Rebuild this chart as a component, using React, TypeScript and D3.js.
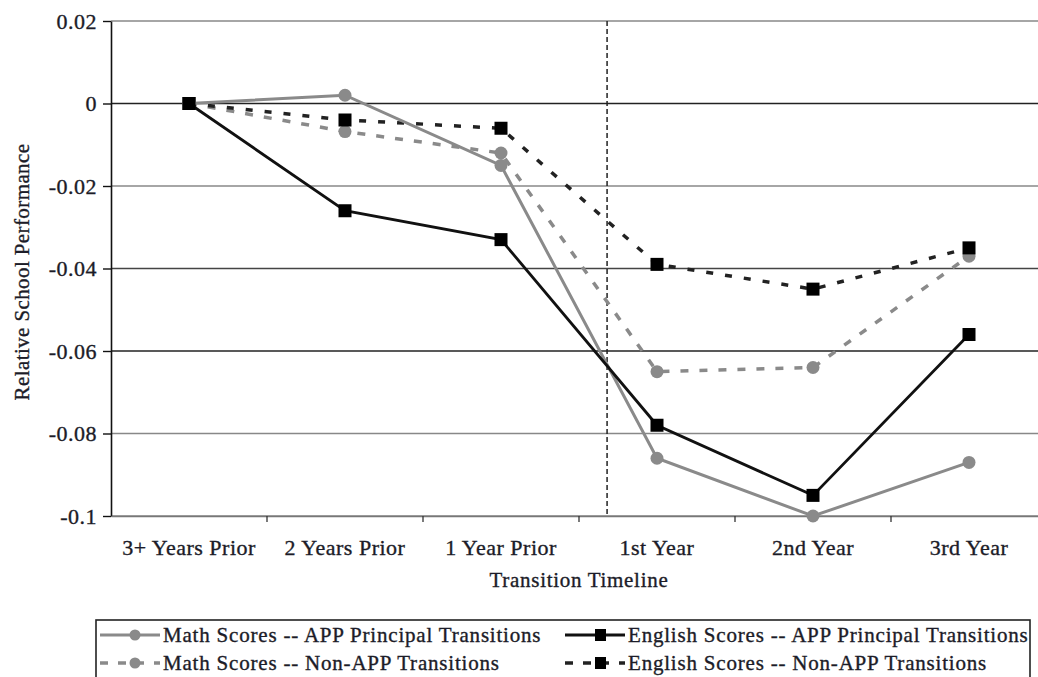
import React, { useEffect, useRef } from "react";
import * as d3 from "d3";

const categories = ["3+ Years Prior", "2 Years Prior", "1 Year Prior", "1st Year", "2nd Year", "3rd Year"];
const mathAPP = [0, 0.002, -0.015, -0.086, -0.1, -0.087];
const englishAPP = [0, -0.026, -0.033, -0.078, -0.095, -0.056];
const mathNonAPP = [0, -0.0068, -0.012, -0.065, -0.064, -0.037];
const englishNonAPP = [0, -0.004, -0.006, -0.039, -0.045, -0.035];
const yTicks = [0.02, 0, -0.02, -0.04, -0.06, -0.08, -0.1];
const yTickLabels = ["0.02", "0", "-0.02", "-0.04", "-0.06", "-0.08", "-0.1"];
const transitionAt = 2.68; // position (in category index units) of the dashed vertical line

const W = 1038;
const H = 677;
const FONT = "'Liberation Serif', 'Times New Roman', serif";
const TXT = "#1c1c28";

export default function App() {
  const ref = useRef<SVGSVGElement>(null);
  useEffect(() => {
    const svg = d3.select(ref.current);
    svg.selectAll("*").remove();

    const left = 111, right = 1047, top = 21, bottom = 516;
    const x = d3.scaleBand().domain(categories).range([left, right]).padding(0);
    const xi = d3.scaleLinear().domain([0, categories.length - 1])
      .range([x(categories[0])! + x.bandwidth() / 2, x(categories[categories.length - 1])! + x.bandwidth() / 2]);
    const y = d3.scaleLinear().domain([-0.1, 0.02]).range([bottom, top]);

    const styleText = (sel: any, size: number, ls: number) =>
      sel.attr("font-family", FONT).attr("font-size", size).attr("fill", TXT)
        .attr("stroke", TXT).attr("stroke-width", 0.35).attr("letter-spacing", ls);

    // gridlines
    const gridColor = (v: number) => (Math.abs(v) < 1e-9 || Math.abs(v + 0.06) < 1e-9 ? "#222" : Math.abs(v + 0.04) < 1e-9 ? "#444" : "#888");
    svg.append("g").selectAll("line").data(yTicks).join("line")
      .attr("x1", left).attr("x2", W)
      .attr("y1", (d) => y(d)).attr("y2", (d) => y(d))
      .attr("stroke", (d) => gridColor(d)).attr("stroke-width", 1.6);

    // y axis
    const yAxis = d3.axisLeft(y).tickValues(yTicks).tickSize(8).tickSizeOuter(0)
      .tickFormat((d, i) => yTickLabels[i]);
    const gy = svg.append("g").attr("transform", `translate(${left},0)`).call(yAxis);
    gy.select(".domain").attr("stroke", "#111").attr("stroke-width", 1.6);
    gy.selectAll(".tick line").attr("stroke", "#111").attr("stroke-width", 1.4);
    styleText(gy.selectAll(".tick text"), 22, 0.5).attr("x", -14);

    // x axis
    const xAxis = d3.axisBottom(x).tickSize(0).tickSizeOuter(0);
    const gx = svg.append("g").attr("transform", `translate(0,${bottom})`).call(xAxis);
    gx.select(".domain").attr("stroke", "#777").attr("stroke-width", 1.6);
    styleText(gx.selectAll(".tick text"), 22, 0.5).attr("y", 23);
    // band boundary ticks
    svg.append("g").selectAll("line").data(categories.slice(1)).join("line")
      .attr("x1", (d) => x(d)!).attr("x2", (d) => x(d)!)
      .attr("y1", bottom).attr("y2", bottom + 6)
      .attr("stroke", "#333").attr("stroke-width", 1.3);

    // axis titles
    styleText(svg.append("text").attr("x", (left + right) / 2).attr("y", 587).attr("text-anchor", "middle"), 21, 0.7)
      .text("Transition Timeline");
    styleText(svg.append("text").attr("transform", `translate(29,${272}) rotate(-90)`).attr("text-anchor", "middle"), 21, 0.4)
      .text("Relative School Performance");

    // dashed vertical transition line
    svg.append("line").attr("x1", xi(transitionAt)).attr("x2", xi(transitionAt))
      .attr("y1", y(0.02)).attr("y2", bottom)
      .attr("stroke", "#222").attr("stroke-width", 1.5).attr("stroke-dasharray", "5,3");

    const line = d3.line<number>().x((d, i) => xi(i)).y((d) => y(d));

    type S = { data: number[]; color: string; dash: string | null; marker: "circle" | "square"; width: number };
    const series: S[] = [
      { data: mathNonAPP, color: "#8a8a8a", dash: "8,11", marker: "circle", width: 3.5 },
      { data: englishNonAPP, color: "#222", dash: "7,12", marker: "square", width: 3.5 },
      { data: mathAPP, color: "#8a8a8a", dash: null, marker: "circle", width: 3 },
      { data: englishAPP, color: "#111", dash: null, marker: "square", width: 2.8 },
    ];

    series.forEach((s) => {
      svg.append("path").attr("d", line(s.data)!).attr("fill", "none")
        .attr("stroke", s.color).attr("stroke-width", s.width)
        .attr("stroke-dasharray", s.dash ?? null);
      const g = svg.append("g");
      if (s.marker === "circle") {
        g.selectAll("circle").data(s.data).join("circle")
          .attr("cx", (d, i) => xi(i)).attr("cy", (d) => y(d)).attr("r", 6.5)
          .attr("fill", s.color);
      } else {
        g.selectAll("rect").data(s.data).join("rect")
          .attr("x", (d, i) => xi(i) - 6.5).attr("y", (d) => y(d) - 6.5)
          .attr("width", 13).attr("height", 13).attr("fill", "#000");
      }
    });

    // legend
    const lg = svg.append("g");
    lg.append("rect").attr("x", 96).attr("y", 620).attr("width", 934).attr("height", 70)
      .attr("fill", "none").attr("stroke", "#222").attr("stroke-width", 1.6);
    const legendItems = [
      { label: "Math Scores -- APP Principal Transitions", s: series[2], lx: 100, ly: 635 },
      { label: "English Scores -- APP Principal Transitions", s: series[3], lx: 565, ly: 635 },
      { label: "Math Scores -- Non-APP Transitions", s: series[0], lx: 100, ly: 663 },
      { label: "English Scores -- Non-APP Transitions", s: series[1], lx: 565, ly: 663 },
    ];
    legendItems.forEach((it) => {
      const sx1 = it.lx, sx2 = it.lx + 60, cx = it.lx + 30;
      lg.append("line").attr("x1", sx1).attr("x2", sx2).attr("y1", it.ly).attr("y2", it.ly)
        .attr("stroke", it.s.color).attr("stroke-width", it.s.width)
        .attr("stroke-dasharray", it.s.dash ? "8,10" : null);
      if (it.s.marker === "circle") {
        lg.append("circle").attr("cx", cx + 5).attr("cy", it.ly).attr("r", 5.5).attr("fill", it.s.color);
      } else {
        lg.append("rect").attr("x", cx).attr("y", it.ly - 6).attr("width", 11).attr("height", 12).attr("fill", "#000");
      }
      styleText(lg.append("text").attr("x", sx2 + 3).attr("y", it.ly + 7), 21, 0.8).text(it.label);
    });
  }, []);

  return (
    <svg ref={ref} width={W} height={H}
      style={{ position: "absolute", left: 0, top: 0, background: "#fff", display: "block" }} />
  );
}
